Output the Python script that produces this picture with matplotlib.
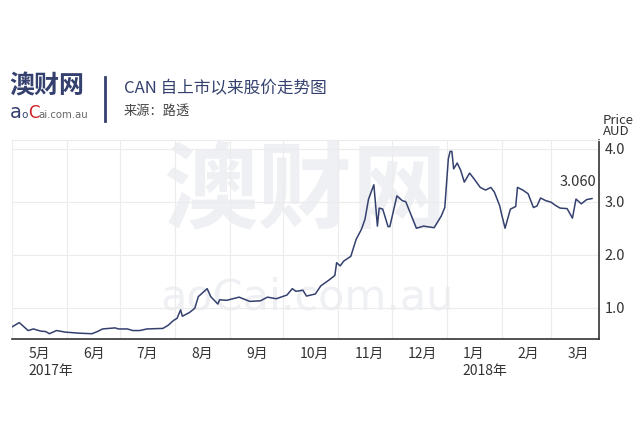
import numpy as np
import pandas as pd
import matplotlib
matplotlib.use("Agg")
import matplotlib.pyplot as plt
from matplotlib.lines import Line2D

plt.rcParams['font.family'] = ['Noto Sans CJK SC', 'DejaVu Sans']

# CAN share price (AUD)
dates = [
    "2017-05-01", "2017-05-05", "2017-05-10", "2017-05-13", "2017-05-17", "2017-05-20",
    "2017-05-22", "2017-05-26", "2017-05-31", "2017-06-08", "2017-06-15", "2017-06-18",
    "2017-06-21", "2017-06-28", "2017-06-30", "2017-07-05", "2017-07-08", "2017-07-12",
    "2017-07-16", "2017-07-25", "2017-07-28", "2017-07-31", "2017-08-02", "2017-08-04",
    "2017-08-05", "2017-08-09", "2017-08-12", "2017-08-14", "2017-08-19", "2017-08-21",
    "2017-08-25", "2017-08-26", "2017-08-30", "2017-09-06", "2017-09-12", "2017-09-18",
    "2017-09-22", "2017-09-27", "2017-10-03", "2017-10-06", "2017-10-08", "2017-10-12",
    "2017-10-14", "2017-10-19", "2017-10-22", "2017-10-27", "2017-10-30", "2017-10-31",
    "2017-11-02", "2017-11-04", "2017-11-08", "2017-11-11", "2017-11-14", "2017-11-16",
    "2017-11-18", "2017-11-21", "2017-11-23", "2017-11-24", "2017-11-26", "2017-11-29",
    "2017-11-30", "2017-12-04", "2017-12-07", "2017-12-09", "2017-12-12", "2017-12-15",
    "2017-12-19", "2017-12-25", "2017-12-29", "2017-12-31", "2018-01-02", "2018-01-03",
    "2018-01-04", "2018-01-05", "2018-01-07", "2018-01-09", "2018-01-11", "2018-01-14",
    "2018-01-17", "2018-01-20", "2018-01-23", "2018-01-26", "2018-01-28", "2018-01-31",
    "2018-02-01", "2018-02-03", "2018-02-06", "2018-02-09", "2018-02-10", "2018-02-13",
    "2018-02-16", "2018-02-19", "2018-02-21", "2018-02-23", "2018-02-26", "2018-03-01",
    "2018-03-03", "2018-03-06", "2018-03-10", "2018-03-13", "2018-03-15", "2018-03-18",
    "2018-03-21", "2018-03-24",
]
prices = [
    0.64, 0.72, 0.57, 0.60, 0.56, 0.55,
    0.51, 0.57, 0.54, 0.52, 0.51, 0.55,
    0.60, 0.62, 0.60, 0.60, 0.57, 0.57,
    0.60, 0.61, 0.67, 0.76, 0.80, 0.96,
    0.84, 0.91, 0.99, 1.21, 1.36, 1.21,
    1.07, 1.15, 1.14, 1.20, 1.12, 1.13,
    1.20, 1.17, 1.24, 1.36, 1.31, 1.33,
    1.22, 1.26, 1.41, 1.53, 1.61, 1.85,
    1.79, 1.88, 1.97, 2.29, 2.48, 2.67,
    3.05, 3.32, 2.54, 2.88, 2.86, 2.53,
    2.53, 3.11, 3.02, 3.00, 2.75, 2.50,
    2.54, 2.51, 2.73, 2.89, 3.81, 3.95,
    3.95, 3.62, 3.73, 3.59, 3.37, 3.54,
    3.41, 3.27, 3.22, 3.27, 3.18, 2.92,
    2.77, 2.50, 2.86, 2.91, 3.27, 3.22,
    3.15, 2.89, 2.92, 3.07, 3.02, 2.99,
    2.94, 2.88, 2.87, 2.69, 3.05, 2.96,
    3.04, 3.06,
]
month_labels = ["5月\n2017年", "6月", "7月", "8月", "9月", "10月", "11月", "12月",
                "1月\n2018年", "2月", "3月"]
y_ticks = [1.0, 2.0, 3.0, 4.0]
last_label = "3.060"

navy = "#34406e"
dark = "#333333"
wm = "#eff0f3"

df = pd.DataFrame({"date": pd.to_datetime(dates), "price": prices})
month_starts = pd.date_range("2017-05-01", "2018-03-01", freq="MS")

fig = plt.figure(figsize=(6.4, 4.4), dpi=100)
ax = fig.add_axes([0.019, 0.2295, 0.917, 0.453])

# watermark
ax.text(0.5, 0.73, "澳财网", transform=ax.transAxes, ha="center", va="center",
        fontsize=68, fontweight="bold", color=wm, zorder=0)
ax.text(0.503, 0.21, "aoCai.com.au", transform=ax.transAxes, ha="center", va="center",
        fontsize=31, color=wm, zorder=0, family="DejaVu Sans")

ax.plot(df["date"], df["price"], color=navy, lw=1.1, zorder=3)
ax.annotate(last_label, (df["date"].iloc[-1], df["price"].iloc[-1]),
            xytext=(-10, 7), textcoords="offset points", ha="center", va="bottom",
            fontsize=10.5, color=dark)

ax.set_xlim(pd.Timestamp("2017-05-01"), pd.Timestamp("2018-03-28"))
ax.set_ylim(0.41, 4.17)

ax.yaxis.tick_right()
ax.set_yticks(y_ticks)
ax.set_yticklabels([f"{v:.1f}" for v in y_ticks])
ax.tick_params(axis="y", length=0, pad=4, labelsize=10.5, labelcolor=dark)

ax.set_xticks(month_starts, minor=True)
ax.set_xticks(month_starts + pd.Timedelta(days=9))
ax.set_xticklabels(month_labels, ha="left")
ax.tick_params(axis="x", which="both", length=0, pad=6, labelsize=10, labelcolor=dark)

ax.grid(axis="y", color="#ececec", lw=0.8)
ax.grid(axis="x", which="minor", color="#ececec", lw=0.8)
ax.grid(axis="x", which="major", visible=False)

ax.spines["left"].set_visible(False)
ax.spines["top"].set_color("#ececec")
ax.spines["bottom"].set_color(dark)
ax.spines["bottom"].set_linewidth(1.2)
ax.spines["right"].set_color(dark)
ax.spines["right"].set_linewidth(1.2)

fig.text(603 / 640, 1 - 126 / 440, "Price\nAUD", ha="left", va="center",
         fontsize=9.5, color=dark, linespacing=0.85)

# header
def px(x, y):
    return x / 640, 1 - y / 440

fig.text(*px(9, 87), "澳财网", ha="left", va="center", fontsize=18,
         fontweight="bold", color=navy)
fig.text(*px(10, 113), "a", ha="left", va="center", fontsize=14, color=navy,
         family="DejaVu Sans")
fig.text(*px(21.5, 115), "o", ha="left", va="center", fontsize=7.5, color=navy,
         family="DejaVu Sans")
fig.text(*px(28, 113), "C", ha="left", va="center", fontsize=12, color="#d0202a",
         family="DejaVu Sans")
fig.text(*px(38, 115), "ai.com.au", ha="left", va="center", fontsize=7.3,
         color="#666666", family="DejaVu Sans")
fig.add_artist(Line2D([105 / 640, 105 / 640], [1 - 77 / 440, 1 - 121 / 440],
                      transform=fig.transFigure, color=navy, lw=2))
fig.text(*px(124, 89), "CAN 自上市以来股价走势图", ha="left", va="center",
         fontsize=12, color=navy)
fig.text(*px(124, 111), "来源：路透", ha="left", va="center", fontsize=9.5,
         color="#444444")

fig.savefig("out.png", dpi=100)
